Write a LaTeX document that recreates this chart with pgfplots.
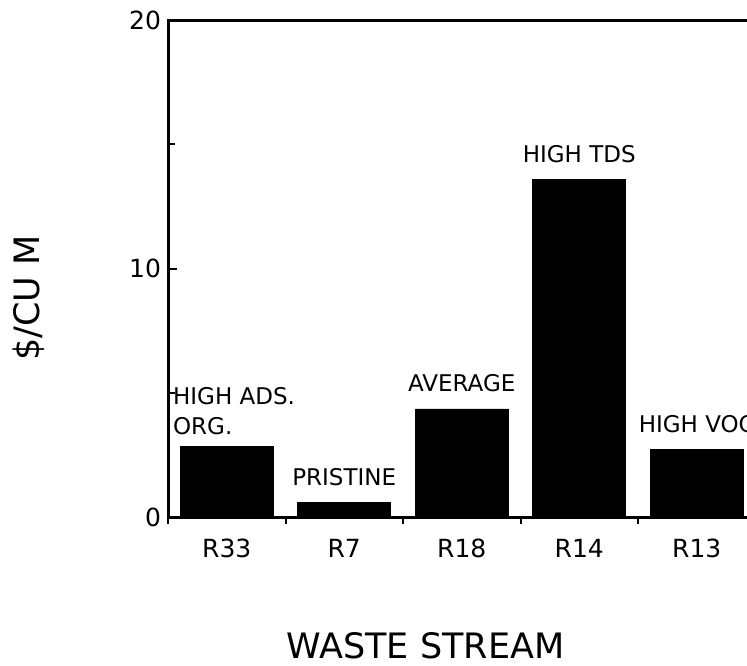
\documentclass[border=0pt]{standalone}
\usepackage{pgfplots}
\pgfplotsset{compat=1.18}
\usepackage{fontspec}
\setmainfont{DejaVu Sans}
\begin{document}
\begin{tikzpicture}
\begin{axis}[
  at={(0,0)}, anchor=south west,
  scale only axis, width=352.5pt, height=248.5pt,
  xmin=-0.5, xmax=5.5, ymin=0, ymax=20,
  axis line style={line width=1.5pt},
  axis on top,
  clip=false,
  ybar, bar width=46.5pt, bar shift=0pt,
  xtick={0,1,2,3,4}, xticklabels={R33,R7,R18,R14,R13},
  major x tick style={draw=none},
  minor xtick={-0.5,0.5,1.5,2.5,3.5,4.5},
  tick pos=left,
  xtick align=outside, ytick align=inside,
  ytick={0,10,20}, minor ytick={5,15},
  major tick length=4.5pt, minor tick length=3.5pt,
  every tick/.style={black, line width=1pt},
  minor tick style={black, line width=1pt},
  tick label style={font=\fontsize{12.5}{15}\selectfont},
  xticklabel style={yshift=-3pt},
  /pgf/number format/assume math mode=true,
]
\addplot[fill=black, draw=black] coordinates {(0,2.85) (1,0.59) (2,4.35) (3,13.6) (4,2.72)};
\node[anchor=south west, align=left, inner sep=0, font=\fontsize{11.5}{15}\selectfont] at (axis cs:-0.46,2.85) [yshift=5.5pt] {HIGH ADS.\\ORG.};
\node[anchor=base, font=\fontsize{11.5}{15}\selectfont] at (axis cs:1,0.59) [yshift=8.5pt] {PRISTINE};
\node[anchor=base, font=\fontsize{11.5}{15}\selectfont] at (axis cs:2,4.35) [yshift=8.5pt] {AVERAGE};
\node[anchor=base, font=\fontsize{11.5}{15}\selectfont] at (axis cs:3,13.6) [yshift=8.5pt] {HIGH TDS};
\node[anchor=base, font=\fontsize{11.5}{15}\selectfont] at (axis cs:4,2.72) [yshift=8.5pt] {HIGH VOC};
\end{axis}
\node[rotate=90, font=\fontsize{17.5}{21}\selectfont] at (-69.5pt,109.5pt) {\$/CU M};
\node[font=\fontsize{17.5}{21}\selectfont] at (128.75pt,-64.5pt) {WASTE STREAM};
\pgfresetboundingbox
\useasboundingbox (-84pt,-74pt) rectangle (289.5pt,258.5pt);
\end{tikzpicture}
\end{document}
